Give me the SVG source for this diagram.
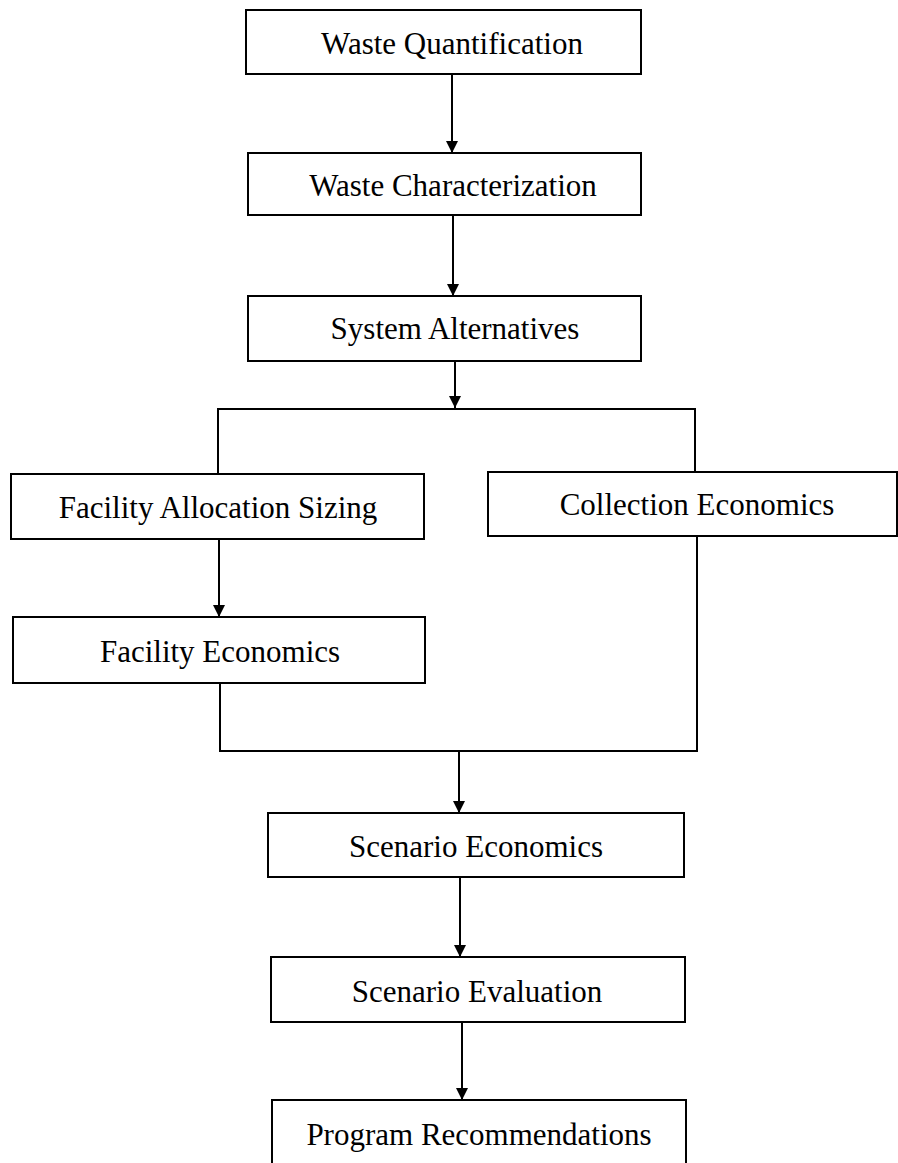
<svg xmlns="http://www.w3.org/2000/svg" width="898" height="1163" viewBox="0 0 898 1163">
<style>
.box{fill:#fff;stroke:#000;stroke-width:2}
.lbl{font-family:"Liberation Serif","Times New Roman",serif;font-size:31px;fill:#000;text-anchor:middle}
.con{fill:none;stroke:#000;stroke-width:2}
.arr{fill:none;stroke:#000;stroke-width:2;marker-end:url(#ah)}
</style>
<defs>
<marker id="ah" markerUnits="userSpaceOnUse" markerWidth="12" markerHeight="12" viewBox="0 0 12 12" refX="12" refY="6" orient="auto">
<path d="M0,0 L12,6 L0,12 Z" fill="#000"/>
</marker>
</defs>
<rect width="898" height="1163" fill="#fff"/>
<g id="connectors">
<line class="arr" x1="452" y1="74" x2="452" y2="153"/>
<line class="arr" x1="453" y1="215" x2="453" y2="296"/>
<line class="arr" x1="455" y1="361" x2="455" y2="408"/>
<polyline class="con" points="218,474 218,409 695,409 695,472"/>
<line class="arr" x1="219" y1="539" x2="219" y2="617"/>
<polyline class="con" points="220,683 220,751 697,751 697,536"/>
<line class="arr" x1="459" y1="751" x2="459" y2="813"/>
<line class="arr" x1="460" y1="877" x2="460" y2="957"/>
<line class="arr" x1="462" y1="1022" x2="462" y2="1100"/>
</g>
<g id="waste-quantification">
<rect class="box" x="246" y="10" width="395" height="64"/>
<text class="lbl" x="452" y="54">Waste Quantification</text>
</g>
<g id="waste-characterization">
<rect class="box" x="248" y="153" width="393" height="62"/>
<text class="lbl" x="453" y="196">Waste Characterization</text>
</g>
<g id="system-alternatives">
<rect class="box" x="248" y="296" width="393" height="65"/>
<text class="lbl" x="455" y="339">System Alternatives</text>
</g>
<g id="facility-allocation-sizing">
<rect class="box" x="11" y="474" width="413" height="65"/>
<text class="lbl" x="218" y="518">Facility Allocation Sizing</text>
</g>
<g id="collection-economics">
<rect class="box" x="488" y="472" width="409" height="64"/>
<text class="lbl" x="697" y="515">Collection Economics</text>
</g>
<g id="facility-economics">
<rect class="box" x="13" y="617" width="412" height="66"/>
<text class="lbl" x="220" y="662">Facility Economics</text>
</g>
<g id="scenario-economics">
<rect class="box" x="268" y="813" width="416" height="64"/>
<text class="lbl" x="476" y="857">Scenario Economics</text>
</g>
<g id="scenario-evaluation">
<rect class="box" x="271" y="957" width="414" height="65"/>
<text class="lbl" x="477" y="1002">Scenario Evaluation</text>
</g>
<g id="program-recommendations">
<rect class="box" x="272" y="1100" width="414" height="70"/>
<text class="lbl" x="479" y="1145">Program Recommendations</text>
</g>
</svg>
